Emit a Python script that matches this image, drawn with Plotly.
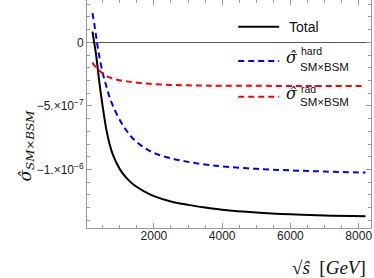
import plotly.graph_objects as go

# sqrt(s-hat) in GeV
x_vals = [200, 250, 300, 350, 400, 500, 600, 700, 800, 1000, 1200, 1400, 1700,
          2000, 2500, 3000, 3500, 4000, 5000, 6000, 7000, 8200]

total = [0.85e-7, 0.0, -0.85e-7, -1.96e-7, -3.1e-7, -5.05e-7, -6.77e-7, -7.99e-7, -8.85e-7,
         -9.97e-7, -1.068e-6, -1.118e-6, -1.17e-6, -1.209e-6, -1.251e-6, -1.278e-6,
         -1.299e-6, -1.316e-6, -1.338e-6, -1.3525e-6, -1.362e-6, -1.368e-6]

hard = [2.3e-7, 1.5e-7, 0.6e-7, -0.3e-7, -1.1e-7, -2.4e-7, -3.4e-7, -4.3e-7, -5.0e-7,
        -6.1e-7, -6.95e-7, -7.6e-7, -8.25e-7, -8.7e-7, -9.12e-7, -9.4e-7, -9.6e-7,
        -9.75e-7, -9.95e-7, -1.007e-6, -1.016e-6, -1.024e-6]

rad = [-1.58e-7, -1.8e-7, -1.95e-7, -2.1e-7, -2.22e-7, -2.45e-7, -2.62e-7, -2.75e-7,
       -2.85e-7, -2.98e-7, -3.07e-7, -3.14e-7, -3.22e-7, -3.28e-7, -3.35e-7, -3.38e-7,
       -3.4e-7, -3.41e-7, -3.42e-7, -3.43e-7, -3.435e-7, -3.44e-7]

x_ticks = [2000, 4000, 6000, 8000]
y_ticks = [0, -5e-7, -1e-6]
y_ticktext = ["0", "\u22125.\u00d710<sup>\u22127</sup>", "\u22121.\u00d710<sup>\u22126</sup>"]

W, H = 374, 278
L, R, T, B = 86.5, 3, 0, 50
pw, ph = W - L - R, H - T - B

def px(xp):
    return (xp - L) / pw

def py(yp):
    return 1 - (yp - T) / ph

fig = go.Figure()
fig.add_trace(go.Scatter(x=x_vals, y=total, mode="lines", line=dict(color="black", width=2),
                         line_shape="spline", showlegend=False))
fig.add_trace(go.Scatter(x=x_vals, y=hard, mode="lines",
                         line=dict(color="#0000ff", width=2, dash="6px,4px"),
                         line_shape="spline", showlegend=False))
fig.add_trace(go.Scatter(x=x_vals, y=rad, mode="lines",
                         line=dict(color="#ff0000", width=2, dash="6px,4px"),
                         line_shape="spline", showlegend=False))

axis_common = dict(
    showgrid=False, ticks="inside", ticklen=5, tickcolor="#999", tickwidth=1,
    showline=True, linecolor="#999", linewidth=1, mirror="allticks",
    tickfont=dict(family="Liberation Sans, Arial", size=12, color="#222"),
)

fig.update_xaxes(range=[40, 8360], tickvals=x_ticks, zeroline=False, ticklabelstandoff=-3,
                 minor=dict(dtick=500, tick0=0, ticks="inside", ticklen=3, tickcolor="#999"),
                 **axis_common)
fig.update_yaxes(range=[-1.46e-6, 3.33e-7], tickvals=y_ticks, ticktext=y_ticktext,
                 zeroline=True, zerolinecolor="#555", zerolinewidth=1,
                 minor=dict(dtick=1e-7, tick0=0, ticks="inside", ticklen=3, tickcolor="#999"),
                 **axis_common)

# legend (drawn manually to stack super/subscripts)
shapes = []
for yp, col, dash in [(26.7, "black", "solid"), (61, "#0000ff", "6px,4px"), (96.7, "#ff0000", "6px,4px")]:
    shapes.append(dict(type="line", xref="paper", yref="paper", x0=px(238), x1=px(279),
                       y0=py(yp), y1=py(yp), line=dict(color=col, width=2, dash=dash)))

ann = []
sans = "Liberation Sans, Arial"
serif = "DejaVu Serif, Liberation Serif, Times New Roman"
ann.append(dict(text="Total", x=px(287), y=py(26.7), xanchor="left", yanchor="middle",
                font=dict(family=sans, size=14, color="#111")))
for sig_y, sup_y, sub_y, sup in [(57, 50.7, 66.5, "hard"), (93, 89, 101.5, "rad")]:
    ann.append(dict(text="<i>\u03c3\u0302</i>", x=px(284), y=py(sig_y), xanchor="left", yanchor="middle",
                    font=dict(family=serif, size=16, color="#111")))
    ann.append(dict(text=sup, x=px(299), y=py(sup_y), xanchor="left", yanchor="middle",
                    font=dict(family=sans, size=10.5, color="#111")))
    ann.append(dict(text="SM\u00d7BSM", x=px(298), y=py(sub_y), xanchor="left", yanchor="middle",
                    font=dict(family=sans, size=11.5, color="#111")))

# axis titles
ann.append(dict(text="<i>\u03c3\u0302<sub>SM\u00d7BSM</sub></i>", x=px(25), y=py(146),
                xanchor="center", yanchor="middle", textangle=-90,
                font=dict(family=serif, size=17, color="#111")))
ann.append(dict(text="\u221a<i>s\u0302</i>  [<i>GeV</i>]", x=px(368), y=py(267),
                xanchor="right", yanchor="middle",
                font=dict(family="Liberation Serif, Times New Roman", size=19, color="#111")))

for a in ann:
    a.update(xref="paper", yref="paper", showarrow=False)

fig.update_layout(
    width=W, height=H, margin=dict(l=L, r=R, t=T, b=B, pad=0),
    paper_bgcolor="white", plot_bgcolor="white",
    shapes=shapes, annotations=ann, showlegend=False,
)

fig.write_html("out.html", config={"displayModeBar": False},
               post_script="document.body.style.margin='0';")
